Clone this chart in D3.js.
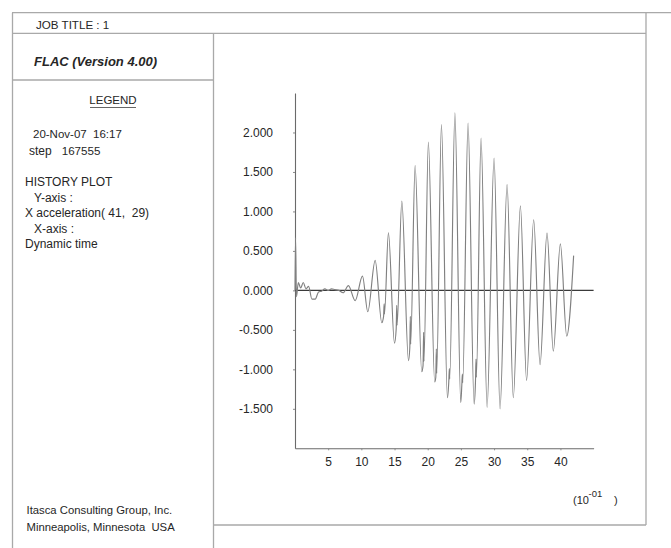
<!DOCTYPE html>
<html>
<head>
<meta charset="utf-8">
<script src="https://cdn.jsdelivr.net/npm/d3@7"></script>
<style>
  html, body { margin: 0; padding: 0; background: #fff; }
  svg { display: block; }
  text { font-family: "Liberation Sans", Arial, Helvetica, sans-serif; fill: #262626; white-space: pre; }
</style>
</head>
<body>
<svg id="chart" width="671" height="548"></svg>
<script>
// ---- header / legend text ----
const jobTitle = "JOB TITLE : 1";
const programName = "FLAC (Version 4.00)";
const legendTitle = "LEGEND";
const runStamp = "20-Nov-07  16:17";
const stepLabel = "step";
const stepCount = "167555";
const historyLines = ["HISTORY PLOT", "Y-axis :", "X acceleration( 41,  29)", "X-axis :", "Dynamic time"];
const historyIndent = [false, true, false, true, false];
const footerLines = ["Itasca Consulting Group, Inc.", "Minneapolis, Minnesota  USA"];

// ---- history: dynamic time (x 10^-1) and X acceleration ----
const times = [
  0.00, 0.08, 0.22, 0.50, 0.85, 1.25, 1.65, 2.05, 2.55, 3.05, 3.55, 4.00,
  4.50, 5.00, 5.50, 6.00, 6.60, 7.25, 8.05, 9.07,
  10.17, 10.97, 12.08, 13.08, 13.35, 13.43, 13.48, 14.08,
  14.99, 15.25, 15.33, 15.38, 16.10,
  17.10, 17.30, 17.38, 17.43, 18.10,
  19.10, 19.30, 19.38, 19.43, 20.10,
  21.05, 21.22, 21.30, 21.35, 22.07,
  22.97, 23.18, 23.26, 23.31, 24.10,
  24.98, 25.14, 25.22, 25.27, 26.08,
  26.99, 27.20, 27.28, 27.33, 28.04,
  28.95, 30.00, 30.90, 31.96, 32.90, 33.97, 34.90, 35.97,
  36.93, 37.98, 38.93, 39.99, 40.95, 41.99
];
const accel = [
  0.00, 0.67, -0.08, 0.10, 0.03, 0.10, 0.02, 0.05, -0.11, -0.11, -0.02, -0.01,
  0.02, 0.00, 0.02, 0.01, 0.00, -0.03, 0.06, -0.13,
  0.18, -0.27, 0.38, -0.41, -0.33, -0.17, -0.30, 0.73,
  -0.67, -0.49, -0.19, -0.44, 1.13,
  -0.89, -0.73, -0.33, -0.68, 1.58,
  -1.03, -0.95, -0.53, -0.90, 1.88,
  -1.16, -1.10, -0.74, -1.05, 2.10,
  -1.36, -1.15, -0.99, -1.12, 2.25,
  -1.42, -1.20, -1.06, -1.17, 2.12,
  -1.44, -1.15, -0.87, -1.10, 1.93,
  -1.48, 1.675, -1.50, 1.34, -1.36, 1.07, -1.14, 0.895,
  -0.94, 0.725, -0.77, 0.59, -0.58, 0.44
];

// ---- axes ----
const xDomain = [0, 45];
const yDomain = [-2.0, 2.5];
const xTickValues = [5, 10, 15, 20, 25, 30, 35, 40];
const yTickValues = [-1.5, -1.0, -0.5, 0.0, 0.5, 1.0, 1.5, 2.0];
const xUnitBase = "(10";
const xUnitExp = "-01";
const xUnitClose = ")";

const svg = d3.select("#chart");
const frameColor = "#a9a9a9";

// ---- page frame ----
const frame = svg.append("g")
  .attr("stroke", frameColor)
  .attr("stroke-width", 1.3)
  .attr("fill", "none");
const framePath = d3.path();
framePath.moveTo(12, 12.7); framePath.lineTo(671, 12.7);           // top rule
framePath.moveTo(12.5, 12.7); framePath.lineTo(12.5, 548);         // left edge
framePath.moveTo(646, 12.7); framePath.lineTo(646, 525);           // right edge
framePath.moveTo(12.5, 33.3); framePath.lineTo(646, 33.3);         // under job title
framePath.moveTo(213.5, 33.3); framePath.lineTo(213.5, 548);       // legend divider
framePath.moveTo(12.5, 80); framePath.lineTo(213.5, 80);           // under program name
framePath.moveTo(213.5, 525); framePath.lineTo(646, 525);          // bottom of plot box
frame.append("path").attr("d", framePath.toString());

// ---- header text ----
svg.append("text").attr("x", 36).attr("y", 28.5)
  .attr("font-size", 11.6).text(jobTitle);
svg.append("text").attr("x", 34).attr("y", 65.5)
  .attr("font-size", 13).attr("font-weight", "bold").attr("font-style", "italic")
  .attr("fill", "#111").text(programName);

svg.append("text").attr("x", 113).attr("y", 104)
  .attr("text-anchor", "middle").attr("font-size", 11.5).text(legendTitle);
svg.append("line").attr("x1", 90).attr("x2", 136).attr("y1", 107.5).attr("y2", 107.5)
  .attr("stroke", "#555").attr("stroke-width", 0.9);

svg.append("text").attr("x", 33).attr("y", 138.3).attr("font-size", 11.5).text(runStamp);
svg.append("text").attr("x", 29).attr("y", 155).attr("font-size", 12).text(stepLabel);
svg.append("text").attr("x", 61.7).attr("y", 155).attr("font-size", 11.6).text(stepCount);

svg.append("g").selectAll("text")
  .data(historyLines)
  .join("text")
  .attr("x", (d, i) => historyIndent[i] ? 34 : 25)
  .attr("y", (d, i) => 186 + i * 15.6)
  .attr("font-size", 12)
  .text(d => d);

svg.append("g").selectAll("text")
  .data(footerLines)
  .join("text")
  .attr("x", 26.5)
  .attr("y", (d, i) => 514 + i * 16.5)
  .attr("font-size", 11.3)
  .text(d => d);

// ---- plot ----
const x = d3.scaleLinear().domain(xDomain).range([295, 593.6]);
const y = d3.scaleLinear().domain(yDomain).range([448.3, 93]);

const minusLocale = d3.formatLocale({ decimal: ".", thousands: ",", grouping: [3], currency: ["", ""], minus: "-" });
const fmt3 = minusLocale.format(".3f");

const yAxis = svg.append("g")
  .attr("transform", `translate(${x(0)},0)`)
  .call(d3.axisLeft(y).tickValues(yTickValues).tickFormat(fmt3)
    .tickSizeInner(2).tickSizeOuter(0).tickPadding(20));

const xAxis = svg.append("g")
  .attr("transform", `translate(0,${y(yDomain[0])})`)
  .call(d3.axisBottom(x).tickValues(xTickValues).tickFormat(d3.format("d"))
    .tickSizeInner(2).tickSizeOuter(0).tickPadding(7));

[yAxis, xAxis].forEach(g => {
  g.select(".domain").attr("stroke", "#6a6a6a").attr("stroke-width", 1.1);
  g.selectAll(".tick line").attr("stroke", "#8a8a8a");
  g.selectAll(".tick text")
    .attr("font-family", "\"Liberation Sans\", Arial, sans-serif")
    .attr("font-size", 12).attr("fill", "#262626");
});

// zero reference line
svg.append("line")
  .attr("x1", x(0)).attr("x2", x(xDomain[1]))
  .attr("y1", y(0)).attr("y2", y(0))
  .attr("stroke", "#3a3a3a").attr("stroke-width", 1.1);

// acceleration history
const series = times.map((t, i) => [t, accel[i]]);
svg.append("path")
  .datum(series)
  .attr("fill", "none")
  .attr("stroke", "#808080")
  .attr("stroke-width", 1.15)
  .attr("stroke-linejoin", "round")
  .attr("d", d3.line().x(d => x(d[0])).y(d => y(d[1])).curve(d3.curveMonotoneX));

// axis multiplier
svg.append("text").attr("x", 573).attr("y", 503.5).attr("font-size", 11).text(xUnitBase);
svg.append("text").attr("x", 588.5).attr("y", 497).attr("font-size", 9.5).text(xUnitExp);
svg.append("text").attr("x", 614).attr("y", 503.5).attr("font-size", 11).text(xUnitClose);
</script>
</body>
</html>
